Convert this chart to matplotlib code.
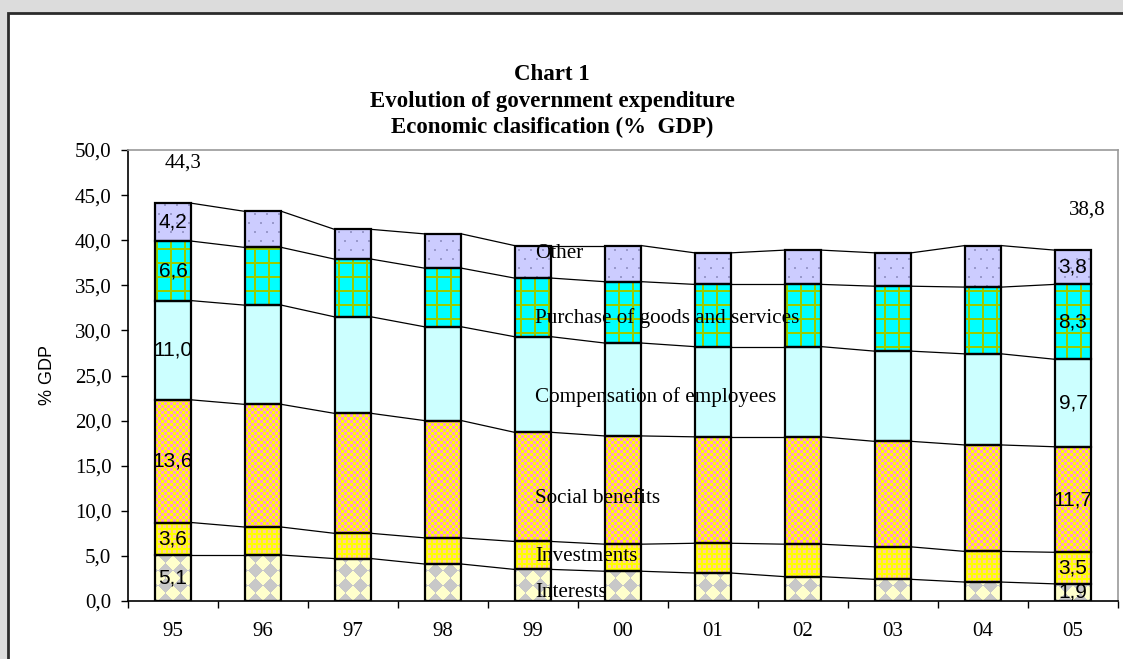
import numpy as np
import matplotlib
matplotlib.use("Agg")
import matplotlib.pyplot as plt
from matplotlib.path import Path
from matplotlib.patches import Rectangle

# ---- data (% of GDP) ----
years = ["95", "96", "97", "98", "99", "00", "01", "02", "03", "04", "05"]
interests = [5.1, 5.1, 4.7, 4.1, 3.5, 3.3, 3.1, 2.7, 2.4, 2.1, 1.9]
investments = [3.6, 3.1, 2.8, 2.9, 3.1, 3.0, 3.3, 3.6, 3.6, 3.4, 3.5]
social_benefits = [13.6, 13.6, 13.3, 13.0, 12.1, 12.0, 11.8, 11.9, 11.7, 11.8, 11.7]
compensation = [11.0, 11.0, 10.7, 10.4, 10.6, 10.3, 10.0, 10.0, 10.0, 10.1, 9.7]
purchases = [6.6, 6.4, 6.4, 6.5, 6.5, 6.8, 6.9, 6.9, 7.2, 7.4, 8.3]
other = [4.2, 4.0, 3.3, 3.8, 3.6, 4.0, 3.5, 3.8, 3.7, 4.6, 3.8]
series_names = ["Interests", "Investments", "Social benefits",
                "Compensation of employees", "Purchase of goods and services", "Other"]
total_first = "44,3"
total_last = "38,8"
y_ticks = [0, 5, 10, 15, 20, 25, 30, 35, 40, 45, 50]

SERIF = "Liberation Serif"
SANS = "Liberation Sans"

W, H = 1123, 659
fig = plt.figure(figsize=(W / 100, H / 100), dpi=100)
fig.patch.set_facecolor("#dcdcdc")

# white chart panel with dark frame
fig.add_artist(Rectangle((8 / W, -0.1), 1.2, 1.1 - 13 / H,
                         transform=fig.transFigure, facecolor="white",
                         edgecolor="#2b2b2b", linewidth=2.0, zorder=0))

ax_l, ax_r, ax_t, ax_b = 128, 1118, 150, 601
ax = fig.add_axes([ax_l / W, (H - ax_b) / H, (ax_r - ax_l) / W, (ax_b - ax_t) / H])
ax.set_facecolor("none")
pw, ph = ax_r - ax_l, ax_b - ax_t

# ---- fill patterns (screen-pixel textures) ----
def rgb(h):
    h = h.lstrip("#")
    return np.array([int(h[i:i + 2], 16) for i in (0, 2, 4)], dtype=float) / 255


def base(color):
    arr = np.empty((ph, pw, 3))
    arr[:] = rgb(color)
    return arr


yy, xx = np.mgrid[0:ph, 0:pw]


def tex_interests():
    a = base("#ffffcc")
    s = 15
    u = (xx + yy) // s
    v = (xx - yy) // s
    a[(u + v) % 2 == 0] = rgb("#c8c8c8")
    return a


def tex_investments():
    a = base("#ffff00")
    p = 5
    a[(xx % p < 3) & (yy % p < 3)] = rgb("#ffcc99")
    return a


def tex_social():
    a = base("#ffff00")
    c = 3
    a[((xx // c) + (yy // c)) % 2 == 0] = rgb("#ff99cc")
    return a


def tex_compensation():
    return base("#ccffff")


def tex_purchases():
    a = base("#00ffff")
    p = 14
    a[(xx % p < 2) | (yy % p < 2)] = rgb("#99cc00")
    return a


def tex_other():
    a = base("#ccccff")
    row = yy // 9
    on_row = (yy % 9) < 2
    shift = (row % 2) * 6
    a[on_row & (((xx + shift) % 12) < 2)] = rgb("#9999cc")
    return a


series = [interests, investments, social_benefits, compensation, purchases, other]
textures = [tex_interests, tex_investments, tex_social, tex_compensation,
            tex_purchases, tex_other]

x = np.arange(len(years))
bw = 0.41
xlim = (-0.5, len(years) - 0.5)
ylim = (0, 50)

bottom = np.zeros(len(years))
tops = []
for vals, tex in zip(series, textures):
    vals = np.array(vals)
    bars = ax.bar(x, vals, bw, bottom=bottom, facecolor="none",
                  edgecolor="black", linewidth=1.6, zorder=4)
    paths = [b.get_path().transformed(b.get_patch_transform()) for b in bars]
    clip = Path.make_compound_path(*paths)
    im = ax.imshow(tex(), extent=(xlim[0], xlim[1], ylim[0], ylim[1]),
                   origin="upper", interpolation="nearest", aspect="auto", zorder=2)
    im.set_clip_path(clip, ax.transData)
    # value labels on the first and last bars
    for j in (0, len(years) - 1):
        ax.text(x[j], bottom[j] + vals[j] / 2, f"{vals[j]:.1f}".replace(".", ","),
                ha="center", va="center", fontsize=15, family=SANS, zorder=6)
    bottom = bottom + vals
    tops.append(bottom.copy())

# series lines linking the segment tops of neighbouring bars
for top in tops:
    for j in range(len(years) - 1):
        ax.plot([x[j] + bw / 2, x[j + 1] - bw / 2], [top[j], top[j + 1]],
                color="black", linewidth=0.9, zorder=3)

ax.set_xlim(*xlim)
ax.set_ylim(*ylim)

# series names
name_y = [0.9, 4.9, 11.4, 22.6, 31.4, 38.5]
for name, ny in zip(series_names, name_y):
    ax.text(4.02, ny, name, ha="left", va="center", fontsize=15.2,
            family=SERIF, zorder=7)

# totals
ax.text(0.11, 48.6, total_first, ha="center", va="center", fontsize=15, family=SERIF)
ax.text(10.16, 43.3, total_last, ha="center", va="center", fontsize=15, family=SERIF)

# axes styling
ax.set_yticks(y_ticks)
ax.set_yticklabels([f"{v:.1f}".replace(".", ",") for v in y_ticks],
                   family=SERIF, fontsize=15)
ax.tick_params(axis="y", direction="out", length=5, width=1, pad=7)
ax.set_xticks(x)
ax.set_xticklabels(years, family=SERIF, fontsize=15)
ax.set_xticks(np.arange(-0.5, len(years), 1), minor=True)
ax.tick_params(axis="x", which="major", length=0, pad=15)
ax.tick_params(axis="x", which="minor", direction="out", length=5, width=1)
for side in ("top", "right"):
    ax.spines[side].set_color("#9a9a9a")
    ax.spines[side].set_linewidth(1.2)
for side in ("left", "bottom"):
    ax.spines[side].set_color("black")
    ax.spines[side].set_linewidth(1.2)

# titles
title_lines = ["Chart 1", "Evolution of government expenditure",
               "Economic clasification (%  GDP)"]
for t, py in zip(title_lines, [74, 101, 127]):
    fig.text(552 / W, 1 - py / H, t, ha="center", va="center", fontsize=16.5,
             fontweight="bold", family=SERIF)

fig.text(48 / W, 1 - 375 / H, "% GDP", rotation=90, ha="center", va="center",
         fontsize=13, family=SANS)

fig.savefig("out.png", dpi=100, facecolor=fig.get_facecolor())
